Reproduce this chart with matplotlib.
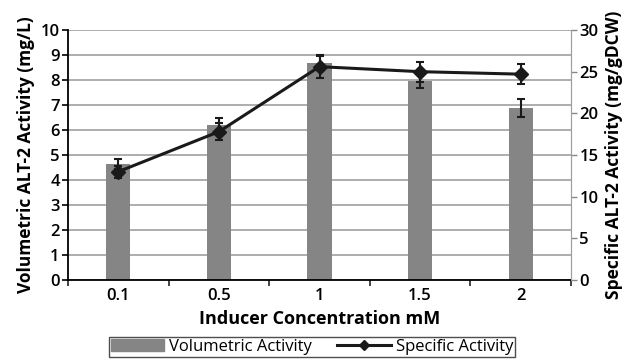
import numpy as np
import matplotlib.pyplot as plt
from matplotlib.lines import Line2D
from matplotlib.patches import Patch

plt.rcParams['font.family'] = ['Open Sans', 'DejaVu Sans']

conc = ['0.1', '0.5', '1', '1.5', '2']
vol = [4.65, 6.22, 8.67, 7.97, 6.88]        # mg/L
vol_err = [0.2, 0.28, 0.28, 0.3, 0.35]
spec = [13.0, 17.8, 25.6, 25.0, 24.7]       # mg/gDCW
spec_err = [0.7, 1.0, 1.4, 1.2, 1.2]

x = np.arange(len(conc))

fig = plt.figure(figsize=(6.29, 3.6), dpi=100)
ax = fig.add_axes([68/629, 80/360, 503/629, 250/360])

ax.bar(x, vol, width=0.24, color='#858585', zorder=2)
ax.errorbar(x, vol, yerr=vol_err, fmt='none', ecolor='#1a1a1a', elinewidth=1.5,
            capsize=3, capthick=1.5, zorder=3)
ax.set_xlim(-0.5, 4.5)
ax.set_ylim(0, 10)
ax.set_yticks(range(0, 11))
ax.yaxis.grid(True, color='#a0a0a0', linewidth=1.2, zorder=0)
ax.set_axisbelow(True)
ax.set_xticks(x)
ax.set_xticklabels(conc)
ax.set_xticks(np.arange(-0.5, 5, 1), minor=True)
ax.tick_params(axis='x', which='major', length=0, labelsize=12, pad=6)
ax.tick_params(axis='x', which='minor', length=4, width=1.2, color='#222222')
ax.tick_params(axis='y', length=4, width=1.2, labelsize=12, pad=2)
for lab in ax.get_xticklabels() + ax.get_yticklabels():
    lab.set_fontweight('semibold')
ax.spines['top'].set_visible(False)
ax.spines['right'].set_color('#a0a0a0')
ax.spines['left'].set_linewidth(1.3)
ax.spines['bottom'].set_linewidth(1.3)
ax.set_ylabel('Volumetric ALT-2 Activity (mg/L)', fontsize=12.5, fontweight='bold', labelpad=4)
ax.set_xlabel('Inducer Concentration mM', fontsize=13, fontweight='bold', labelpad=4)

ax2 = ax.twinx()
ax2.errorbar(x, spec, yerr=spec_err, color='#1a1a1a', linewidth=2.2, marker='D',
             markersize=7, ecolor='#1a1a1a', elinewidth=1.5, capsize=3, capthick=1.5,
             zorder=4)
ax2.set_ylim(0, 30)
ax2.set_yticks(range(0, 31, 5))
ax2.tick_params(axis='y', length=4, width=1, color='#888888', labelsize=12, pad=2)
for lab in ax2.get_yticklabels():
    lab.set_fontweight('semibold')
for s in ['top', 'left', 'bottom']:
    ax2.spines[s].set_visible(False)
ax2.spines['right'].set_color('#a0a0a0')
ax2.set_ylabel('Specific ALT-2 Activity (mg/gDCW)', fontsize=12.5, fontweight='bold', labelpad=5)

handles = [Patch(color='#858585'),
           Line2D([], [], color='#1a1a1a', linewidth=2.2, marker='D', markersize=5)]
fig.legend(handles, ['Volumetric Activity', 'Specific Activity'], loc='center',
           bbox_to_anchor=(312/629, 1 - 347/360), ncol=2, frameon=True, fancybox=False,
           edgecolor='#222222', fontsize=12, handlelength=3.2, handletextpad=0.3,
           columnspacing=1.5, borderpad=0.1)

fig.savefig('out.png', dpi=100)
